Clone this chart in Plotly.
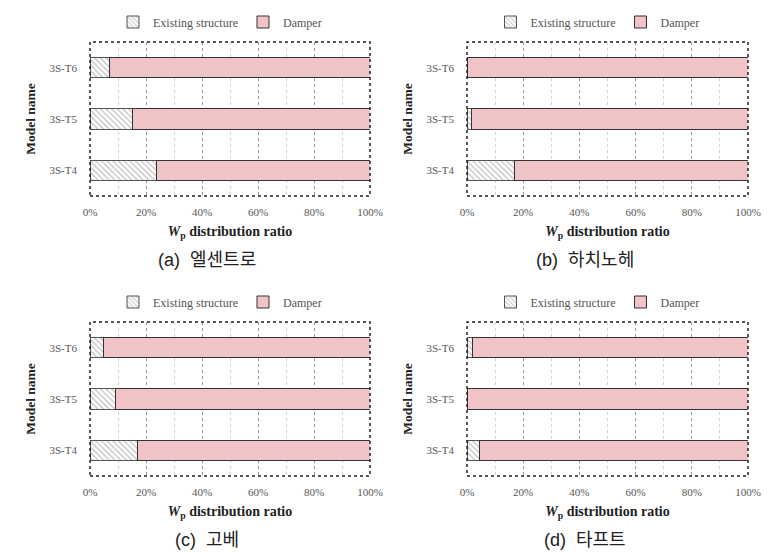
import plotly.graph_objects as go

models = ["3S-T4", "3S-T5", "3S-T6"]
panel_captions = ["(a)  엘센트로", "(b)  하치노헤", "(c)  고베", "(d)  타프트"]
existing_a = [23.8, 15.2, 7.0]
damper_a = [76.2, 84.8, 93.0]
existing_b = [17.0, 1.5, 0.3]
damper_b = [83.0, 98.5, 99.7]
existing_c = [17.0, 9.0, 4.9]
damper_c = [83.0, 91.0, 95.1]
existing_d = [4.5, 0.3, 1.9]
damper_d = [95.5, 99.7, 98.1]
x_ticks = [0, 20, 40, 60, 80, 100]
x_tick_labels = ["0%", "20%", "40%", "60%", "80%", "100%"]

panels = [(existing_a, damper_a), (existing_b, damper_b),
          (existing_c, damper_c), (existing_d, damper_d)]

W, H = 780, 553
# plot-area pixel boxes (left, right, top, bottom)
boxes = [(90, 370, 42, 196), (467, 748, 42, 196),
         (90, 370, 322, 476), (467, 748, 322, 476)]

serif = "Liberation Serif"
fig = go.Figure()
layout = dict(
    width=W, height=H, margin=dict(l=0, r=0, t=0, b=0, autoexpand=False),
    paper_bgcolor="white", plot_bgcolor="white", barmode="stack",
    bargap=0.6, font=dict(family=serif, size=11, color="#444"),
)
shapes = []
annotations = []
for i, ((ex, dm), (l, r, t, b)) in enumerate(zip(panels, boxes)):
    n = "" if i == 0 else str(i + 1)
    xa, ya = "x" + n, "y" + n
    lg = "legend" + n
    fig.add_trace(go.Bar(
        y=models, x=ex, orientation="h", name="Existing structure",
        xaxis=xa, yaxis=ya, legend=lg, width=0.4,
        marker=dict(color="white", line=dict(color="#555", width=1),
                    pattern=dict(shape="\\", fgcolor="#8a8a8a", size=4, solidity=0.35)),
        hoverinfo="skip"))
    fig.add_trace(go.Bar(
        y=models, x=dm, orientation="h", name="Damper",
        xaxis=xa, yaxis=ya, legend=lg, width=0.4,
        marker=dict(color="#f0c4c7", line=dict(color="#333", width=1)),
        hoverinfo="skip"))
    dx = [l / W, r / W]
    dy = [1 - b / H, 1 - t / H]
    layout["xaxis" + n] = dict(
        domain=dx, anchor=ya, range=[0, 100], tickvals=x_ticks,
        ticktext=x_tick_labels,
        showgrid=True, gridcolor="#999", griddash="dot", gridwidth=1,
        minor=dict(dtick=10, showgrid=True, gridcolor="#d4d4d4", griddash="dot"),
        zeroline=False, showline=False, ticks="", ticklabelstandoff=8,
        tickfont=dict(family=serif, size=11, color="#555"),
        title=dict(text="<b><i>W</i><sub>p</sub> distribution ratio</b>",
                   font=dict(family=serif, size=14, color="#222"), standoff=9),
    )
    layout["yaxis" + n] = dict(
        domain=dy, anchor=xa, type="category", categoryorder="array",
        categoryarray=models, range=[-0.5, 2.5], showgrid=False,
        zeroline=False, showline=False, ticks="", ticklabelstandoff=12,
        tickfont=dict(family=serif, size=11, color="#555"),
        title=dict(text="<b>Model name</b>",
                   font=dict(family=serif, size=13.5, color="#222"), standoff=10),
    )
    layout[lg] = dict(
        orientation="h", x=((l + r) / 2 - 10) / W, xanchor="center",
        y=1 - (t - 20) / H, yanchor="middle", traceorder="normal",
        font=dict(family=serif, size=12, color="#555"),
        bgcolor="rgba(0,0,0,0)", tracegroupgap=0,
    )
    shapes.append(dict(type="rect", xref=xa + " domain", yref=ya + " domain",
                       x0=0, x1=1, y0=0, y1=1,
                       line=dict(color="#222", width=1.5, dash="dot")))
    annotations.append(dict(
        text=panel_captions[i], x=((l + r) / 2 - 23) / W, y=1 - (b + 64) / H,
        xref="paper", yref="paper", showarrow=False, xanchor="center",
        yanchor="middle",
        font=dict(family="Liberation Sans, Noto Sans CJK KR", size=18, color="#222")))

layout["shapes"] = shapes
layout["annotations"] = annotations
fig.update_layout(**layout)
fig.write_html("out.html", post_script="document.body.style.margin='0px';",
               config={"displayModeBar": False})
